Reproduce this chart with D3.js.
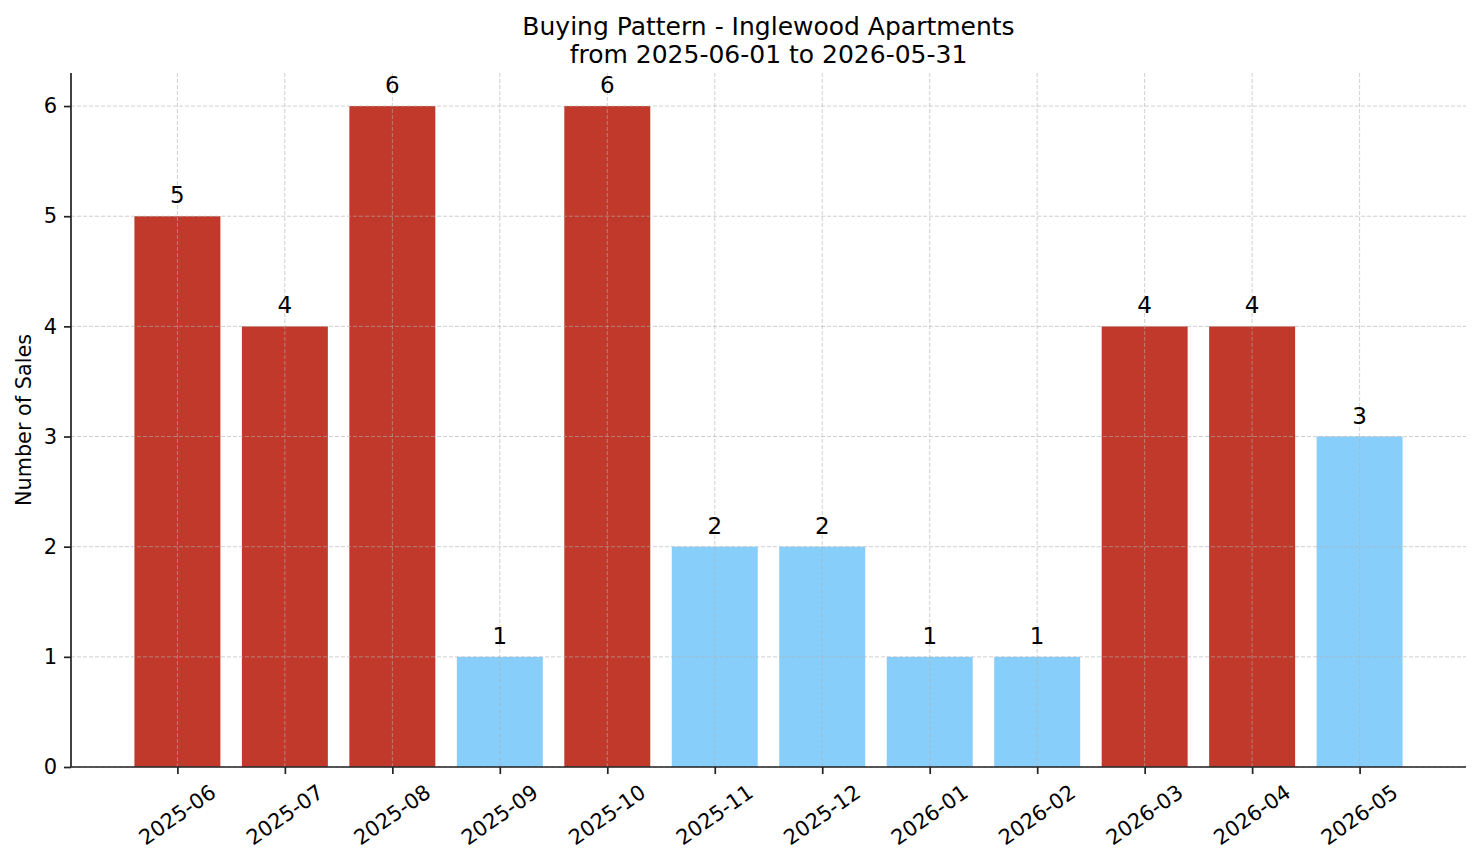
<!DOCTYPE html>
<html>
<head>
<meta charset="utf-8">
<script src="https://cdn.jsdelivr.net/npm/d3@7"></script>
<style>
  body { margin: 0; background: #fff; }
  text { font-family: "DejaVu Sans", sans-serif; fill: #000; }
</style>
</head>
<body>
<script>
// data
var months = ["2025-06","2025-07","2025-08","2025-09","2025-10","2025-11",
              "2025-12","2026-01","2026-02","2026-03","2026-04","2026-05"];
var sales = [5, 4, 6, 1, 6, 2, 2, 1, 1, 4, 4, 3];
var yTicks = [0, 1, 2, 3, 4, 5, 6];
var titleLines = ["Buying Pattern - Inglewood Apartments", "from 2025-06-01 to 2026-05-31"];

var W = 1481, H = 863;
var margin = {top: 73, right: 15, bottom: 96, left: 71},
    width = W - margin.left - margin.right,
    height = H - margin.top - margin.bottom;

var avg = d3.mean(sales);
var colorOf = function(v) { return v > avg ? "#c0392b" : "#87cefa"; };

var svg = d3.select("body").append("svg")
    .attr("width", W)
    .attr("height", H);

var g = svg.append("g")
    .attr("transform", "translate(" + margin.left + "," + margin.top + ")");

// x: linear over index, like matplotlib's bar positions w/ 5% margins
var n = months.length, bw = 0.8;
var lo = -bw / 2, hi = n - 1 + bw / 2, pad = (hi - lo) * 0.05;
var xScale = d3.scaleLinear().domain([lo - pad, hi + pad]).range([0, width]);
var yScale = d3.scaleLinear().domain([0, 6 * 1.05]).range([height, 0]);

// bars
g.selectAll(".bar")
  .data(sales)
  .enter().append("rect")
  .attr("class", "bar")
  .attr("x", function(d, i) { return xScale(i - bw / 2); })
  .attr("width", xScale(bw) - xScale(0))
  .attr("y", function(d) { return yScale(d); })
  .attr("height", function(d) { return height - yScale(d); })
  .attr("fill", colorOf);

// grid on top of bars
var grid = g.append("g").attr("class", "grid");
grid.selectAll(".gy")
  .data(yTicks)
  .enter().append("line")
  .attr("x1", 0).attr("x2", width)
  .attr("y1", function(d) { return yScale(d); })
  .attr("y2", function(d) { return yScale(d); });
grid.selectAll(".gx")
  .data(months)
  .enter().append("line")
  .attr("y1", 0).attr("y2", height)
  .attr("x1", function(d, i) { return xScale(i); })
  .attr("x2", function(d, i) { return xScale(i); });
grid.selectAll("line")
  .attr("stroke", "#b0b0b0")
  .attr("stroke-opacity", 0.6)
  .attr("stroke-width", 1)
  .attr("stroke-dasharray", "4,2");

// value labels
g.selectAll(".val")
  .data(sales)
  .enter().append("text")
  .attr("class", "val")
  .attr("x", function(d, i) { return xScale(i); })
  .attr("y", function(d) { return yScale(d) - 13; })
  .attr("text-anchor", "middle")
  .style("font-size", "23px")
  .text(function(d) { return d; });

// y axis
var yAxis = d3.axisLeft(yScale).tickValues(yTicks).tickFormat(d3.format("d"))
    .tickSize(7).tickPadding(7);
var ya = g.append("g").attr("class", "y-axis").call(yAxis);
ya.select(".domain").attr("d", "M0," + height + "V0");

// x axis
var xAxis = d3.axisBottom(xScale).tickValues(d3.range(n)).tickFormat("")
    .tickSize(7);
var xa = g.append("g").attr("class", "x-axis")
    .attr("transform", "translate(0," + height + ")")
    .call(xAxis);
xa.select(".domain").attr("d", "M0,0H" + width);

g.selectAll(".domain").attr("stroke", "#222").attr("stroke-width", 1.7);
g.selectAll(".tick line").attr("stroke", "#222").attr("stroke-width", 1.7);
ya.selectAll(".tick text").style("font-size", "21px")
  .attr("font-family", null).style("font-family", "DejaVu Sans").attr("fill", "#000");

// rotated month labels
xa.selectAll(".mlab")
  .data(months)
  .enter().append("text")
  .attr("class", "mlab")
  .attr("text-anchor", "middle")
  .attr("dominant-baseline", "central")
  .attr("transform", function(d, i) { return "translate(" + xScale(i) + ",48) rotate(-35)"; })
  .style("font-size", "21px")
  .text(function(d) { return d; });

// y label
svg.append("text")
  .attr("transform", "translate(31," + (margin.top + height / 2) + ") rotate(-90)")
  .attr("text-anchor", "middle")
  .style("font-size", "20.8px")
  .text("Number of Sales");

// title
svg.selectAll(".title")
  .data(titleLines)
  .enter().append("text")
  .attr("class", "title")
  .attr("x", margin.left + width / 2)
  .attr("y", function(d, i) { return 35 + i * 28; })
  .attr("text-anchor", "middle")
  .style("font-size", "25px")
  .text(function(d) { return d; });
</script>
</body>
</html>
